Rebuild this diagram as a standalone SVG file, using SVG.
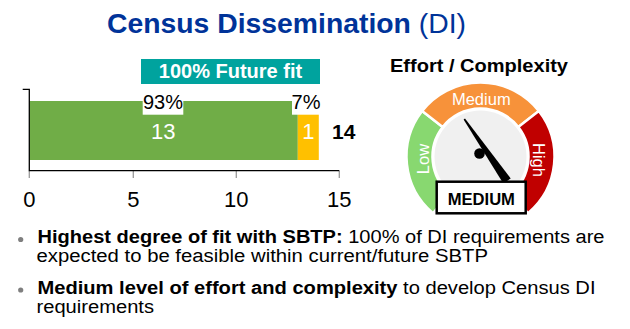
<svg xmlns="http://www.w3.org/2000/svg" width="630" height="329" viewBox="0 0 630 329">
<style>
text{font-family:"Liberation Sans",Arial,sans-serif}
.b{font-weight:bold}
.tick{stroke:#999;stroke-width:1.3}
.seg{stroke:#fff;stroke-width:2.5}
.lab{fill:#fff;font-size:16.5px}
.body{font-size:18px;fill:#000}
.ax{font-size:22px;fill:#000;text-anchor:middle}
</style>
<rect width="630" height="329" fill="#fff"/>
<g id="title">
<text x="107" y="33.3" font-size="28" fill="#003399" textLength="359" lengthAdjust="spacingAndGlyphs"><tspan class="b">Census Dissemination </tspan><tspan>(DI)</tspan></text>
</g>
<g id="chart">
<rect x="141" y="59" width="179" height="25" fill="#00A39E"/>
<text x="230.5" y="78.3" font-size="20" class="b" fill="#fff" text-anchor="middle">100% Future fit</text>
<rect x="29.3" y="101" width="268.5" height="59" fill="#70AD47"/>
<rect x="297.8" y="101" width="21" height="59" fill="#FFC000"/>
<rect x="142.7" y="94" width="40.6" height="20.7" fill="#fff"/>
<rect x="292" y="94" width="28" height="20.7" fill="#fff"/>
<text x="163" y="109.3" font-size="20" text-anchor="middle">93%</text>
<text x="306" y="109.3" font-size="20" text-anchor="middle">7%</text>
<text x="163.3" y="139.3" font-size="22" fill="#fff" text-anchor="middle">13</text>
<text x="308.3" y="139.3" font-size="22" fill="#fff" text-anchor="middle">1</text>
<text x="343.7" y="138.8" font-size="21" class="b" text-anchor="middle">14</text>
<line class="tick" x1="29.3" y1="170.7" x2="29.3" y2="178"/>
<line class="tick" x1="133.3" y1="170.7" x2="133.3" y2="178"/>
<line class="tick" x1="236.3" y1="170.7" x2="236.3" y2="178"/>
<line class="tick" x1="339.3" y1="170.7" x2="339.3" y2="178"/>
<path d="M22.7 89.3H29.3V170.7H339.3" fill="none" stroke="#000" stroke-width="1.3"/>
<text class="ax" x="29.3" y="206.7">0</text>
<text class="ax" x="133.3" y="206.7">5</text>
<text class="ax" x="236.3" y="206.7">10</text>
<text class="ax" x="339.3" y="206.7">15</text>
</g>
<g id="gauge">
<text x="390" y="71.5" font-size="19" class="b" textLength="178" lengthAdjust="spacingAndGlyphs">Effort / Complexity</text>
<path class="seg" fill="#88D870" d="M449.65,193.27 L432.93,213.18 A74 74 0 0 1 422.19,110.94 L442.68,126.95 A48 48 0 0 0 449.65,193.27 Z"/>
<path class="seg" fill="#F7923A" d="M442.68,126.95 L422.19,110.94 A74 74 0 0 1 538.81,110.94 L518.32,126.95 A48 48 0 0 0 442.68,126.95 Z"/>
<path class="seg" fill="#C00000" d="M518.32,126.95 L538.81,110.94 A74 74 0 0 1 528.07,213.18 L511.35,193.27 A48 48 0 0 0 518.32,126.95 Z"/>
<circle cx="480.5" cy="156.5" r="46" fill="#F0F0F0"/>
<text class="lab" x="481.3" y="105" text-anchor="middle">Medium</text>
<text class="lab" transform="translate(428.5 159) rotate(-90)" text-anchor="middle">Low</text>
<text class="lab" transform="translate(532.5 160) rotate(90)" text-anchor="middle">High</text>
<polygon points="463.6,119.6 465.0,118.6 510.7,178.4 503.3,183.6" fill="#000"/>
<circle cx="479.5" cy="153.5" r="5.3" fill="#000"/>
<rect x="436.7" y="181.7" width="89" height="31.6" fill="#fff" stroke="#000" stroke-width="2.5"/>
<text x="481.3" y="205" font-size="16.6" class="b" text-anchor="middle">MEDIUM</text>
</g>
<g id="bullets">
<circle cx="20.7" cy="239.5" r="2.6" fill="#7F7F7F"/>
<text class="body" x="37.5" y="243.3" textLength="567" lengthAdjust="spacingAndGlyphs"><tspan class="b">Highest degree of fit with SBTP:</tspan> 100% of DI requirements are</text>
<text class="body" x="36.5" y="262.3" textLength="451.5" lengthAdjust="spacingAndGlyphs">expected to be feasible within current/future SBTP</text>
<circle cx="20.7" cy="290" r="2.6" fill="#7F7F7F"/>
<text class="body" x="37.5" y="293.6" textLength="558" lengthAdjust="spacingAndGlyphs"><tspan class="b">Medium level of effort and complexity</tspan> to develop Census DI</text>
<text class="body" x="36.5" y="312.8" textLength="117.5" lengthAdjust="spacingAndGlyphs">requirements</text>
</g>
</svg>
